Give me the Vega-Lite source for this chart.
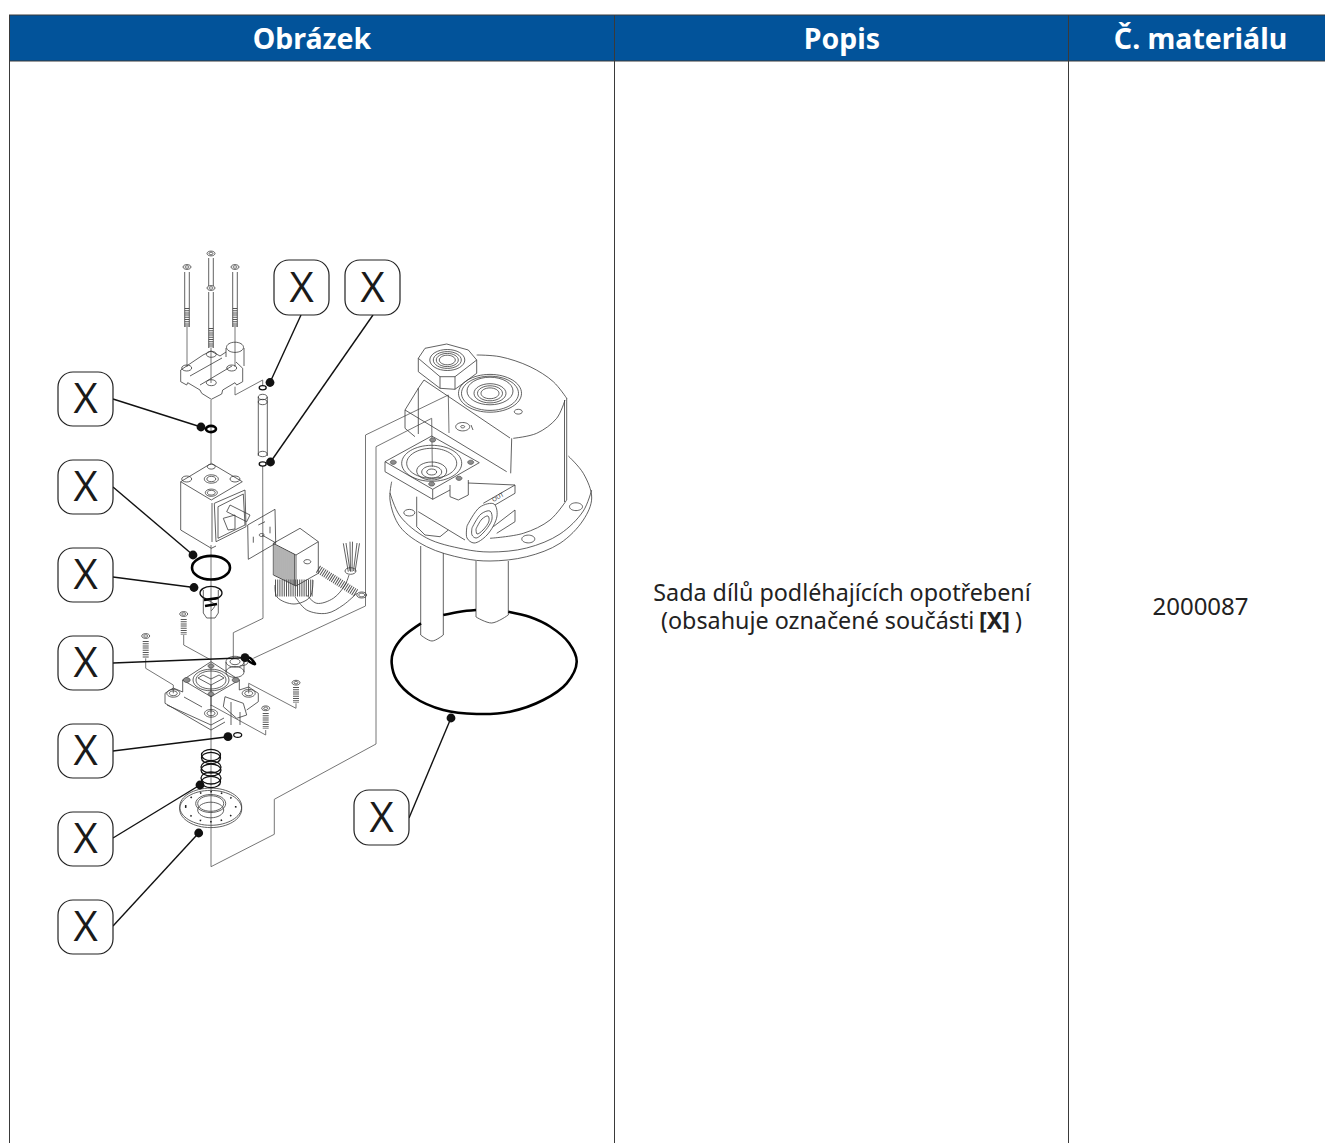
{"$schema":"https://vega.github.io/schema/vega-lite/v6.json","width":1325,"height":1143,"padding":0,"autosize":{"type":"none"},"background":"white","view":{"stroke":null},
"config":{"legend":{"disable":true}},
"encoding":{"x":{"field":"x","type":"quantitative","scale":{"domain":[0,1325],"nice":false,"zero":false},"axis":null},"y":{"field":"y","type":"quantitative","scale":{"domain":[1143,0],"nice":false,"zero":false},"axis":null}},
"layer":[
{"data":{"values":[{"x":9,"x2":1325,"y":15,"y2":61}]},"mark":{"type":"rect","fill":"#02539a"},"encoding":{"x2":{"field":"x2"},"y2":{"field":"y2"}}},
{"data":{"values":[{"p":1,"x":9,"y":15},{"p":1,"x":1325,"y":15},{"p":2,"x":9,"y":61},{"p":2,"x":1325,"y":61},{"p":3,"x":9.5,"y":15},{"p":3,"x":9.5,"y":1143},{"p":4,"x":614.5,"y":15},{"p":4,"x":614.5,"y":1143},{"p":5,"x":1068.5,"y":15},{"p":5,"x":1068.5,"y":1143}]},"mark":{"type":"line","stroke":"#3a3a3a","strokeWidth":1},"encoding":{"detail":{"field":"p"},"order":{"value":null}}},
{"data":{"values":[
{"p":1,"x":211,"y":400},{"p":1,"x":211,"y":463},
{"p":2,"x":211,"y":545},{"p":2,"x":211,"y":866.7},{"p":2,"x":274.3,"y":834.3},{"p":2,"x":274.3,"y":799.3},{"p":2,"x":376,"y":744},{"p":2,"x":376,"y":446.7},{"p":2,"x":431.7,"y":418.3},{"p":2,"x":432.3,"y":466.7},
{"p":3,"x":253.3,"y":658.3},{"p":3,"x":365.5,"y":606},{"p":3,"x":365.5,"y":435},{"p":3,"x":448.3,"y":395},{"p":3,"x":449,"y":433},
{"p":4,"x":262.7,"y":466},{"p":4,"x":263,"y":618.3},{"p":4,"x":233.3,"y":632.7},{"p":4,"x":233.3,"y":658.3},
{"p":5,"x":235,"y":386.7},{"p":5,"x":235,"y":395},{"p":5,"x":262.7,"y":380},{"p":5,"x":262.7,"y":385},
{"p":6,"x":183.7,"y":635},{"p":6,"x":183.7,"y":645},{"p":6,"x":211,"y":660},
{"p":7,"x":145.7,"y":658.3},{"p":7,"x":145.7,"y":668.3},{"p":7,"x":173.3,"y":685},{"p":7,"x":173.3,"y":693.3},
{"p":8,"x":296,"y":703.3},{"p":8,"x":296,"y":708.3},{"p":8,"x":248.7,"y":683.3},{"p":8,"x":248.7,"y":693.3},
{"p":9,"x":265.7,"y":730},{"p":9,"x":265.7,"y":735},{"p":9,"x":211,"y":705},{"p":9,"x":211,"y":713.3},
{"p":10,"x":187,"y":327},{"p":10,"x":187,"y":367},{"p":11,"x":235,"y":327},{"p":11,"x":235,"y":367},{"p":12,"x":211,"y":348},{"p":12,"x":211,"y":383}
]},"mark":{"type":"line","stroke":"#666666","strokeWidth":0.9},"encoding":{"detail":{"field":"p"},"order":{"value":null}}},
{"data":{"values":[
{"p":1,"w":4.5,"x":187,"y":308},{"p":1,"w":4.5,"x":187,"y":327},
{"p":2,"w":4.5,"x":235,"y":308},{"p":2,"w":4.5,"x":235,"y":327},
{"p":3,"w":4.5,"x":211,"y":328},{"p":3,"w":4.5,"x":211,"y":348},
{"p":4,"w":6,"x":183.7,"y":619},{"p":4,"w":6,"x":183.7,"y":635},
{"p":5,"w":6,"x":145.7,"y":641},{"p":5,"w":6,"x":145.7,"y":658},
{"p":6,"w":6,"x":296,"y":687},{"p":6,"w":6,"x":296,"y":703},
{"p":7,"w":6,"x":265.7,"y":713},{"p":7,"w":6,"x":265.7,"y":729},
{"p":9,"w":17,"x":275,"y":588},{"p":9,"w":17,"x":313,"y":588},
{"p":10,"w":8,"x":318,"y":569},{"p":10,"w":8,"x":356,"y":593}
]},"mark":{"type":"line","stroke":"#555555","strokeDash":[1,1.2]},"encoding":{"detail":{"field":"p"},"order":{"value":null},"strokeWidth":{"field":"w","type":"quantitative","scale":{"domain":[0,30],"range":[0,30]},"legend":null}}},
{"data":{"values":[
{"p":101,"x":275,"y":544},{"p":101,"x":275,"y":576},{"p":102,"x":277,"y":545},{"p":102,"x":277,"y":577},{"p":103,"x":279,"y":546},{"p":103,"x":279,"y":578},{"p":104,"x":281,"y":547},{"p":104,"x":281,"y":579},{"p":105,"x":283,"y":548},{"p":105,"x":283,"y":580},{"p":106,"x":285,"y":549},{"p":106,"x":285,"y":581},{"p":107,"x":287,"y":550},{"p":107,"x":287,"y":582},{"p":108,"x":289,"y":551},{"p":108,"x":289,"y":583},{"p":109,"x":291,"y":552},{"p":109,"x":291,"y":584},{"p":110,"x":293,"y":553},{"p":110,"x":293,"y":585},{"p":111,"x":294.5,"y":554},{"p":111,"x":294.5,"y":585.5}
]},"mark":{"type":"line","stroke":"#666666","strokeWidth":1},"encoding":{"detail":{"field":"p"},"order":{"value":null}}},
{"data":{"values":[
{"p":1,"x":184.7,"y":272},{"p":1,"x":184.7,"y":327},{"p":2,"x":189.3,"y":272},{"p":2,"x":189.3,"y":327},
{"p":3,"x":232.7,"y":272},{"p":3,"x":232.7,"y":327},{"p":4,"x":237.3,"y":272},{"p":4,"x":237.3,"y":327},
{"p":5,"x":208.7,"y":258},{"p":5,"x":208.7,"y":286},{"p":6,"x":213.3,"y":258},{"p":6,"x":213.3,"y":286},
{"p":7,"x":208.7,"y":292},{"p":7,"x":208.7,"y":348},{"p":8,"x":213.3,"y":292},{"p":8,"x":213.3,"y":348},
{"p":10,"x":180.7,"y":370},{"p":10,"x":180.7,"y":381.7},{"p":10,"x":186.7,"y":385},{"p":10,"x":187.7,"y":382.7},{"p":10,"x":200,"y":390},{"p":10,"x":201.7,"y":393.3},{"p":10,"x":211.3,"y":399.3},{"p":10,"x":221.7,"y":394},{"p":10,"x":222.7,"y":390},{"p":10,"x":235,"y":382.7},{"p":10,"x":236.7,"y":385},{"p":10,"x":242.7,"y":381.7},{"p":10,"x":242.7,"y":368.3},{"p":10,"x":236,"y":362},
{"p":11,"x":180.7,"y":370},{"p":11,"x":203,"y":355},{"p":11,"x":211,"y":351},{"p":11,"x":220,"y":356},{"p":11,"x":226,"y":352},
{"p":12,"x":190,"y":376},{"p":12,"x":222,"y":358},{"p":13,"x":200,"y":385},{"p":13,"x":232,"y":366},
{"p":14,"x":226,"y":348},{"p":14,"x":226,"y":357},{"p":15,"x":244,"y":348},{"p":15,"x":244,"y":366},
{"p":16,"x":258.3,"y":397},{"p":16,"x":258.3,"y":456},{"p":17,"x":267.3,"y":397},{"p":17,"x":267.3,"y":456},
{"p":20,"x":180.7,"y":481.7},{"p":20,"x":211.3,"y":463.3},{"p":20,"x":242.3,"y":481.7},{"p":20,"x":211.3,"y":500},{"p":20,"x":180.7,"y":481.7},{"p":20,"x":180.7,"y":530},{"p":20,"x":211.3,"y":548.3},{"p":20,"x":216,"y":546},
{"p":21,"x":214.3,"y":503.3},{"p":21,"x":245,"y":490},{"p":21,"x":246,"y":526.7},{"p":21,"x":216,"y":541.7},{"p":21,"x":214.3,"y":503.3},
{"p":22,"x":218,"y":506.7},{"p":22,"x":243.3,"y":494},{"p":22,"x":245,"y":525},{"p":22,"x":218,"y":538.3},{"p":22,"x":218,"y":506.7},
{"p":23,"x":223.3,"y":518.3},{"p":23,"x":235,"y":515},{"p":23,"x":235,"y":529},{"p":23,"x":228,"y":530},{"p":23,"x":223.3,"y":518.3},
{"p":24,"x":230,"y":505},{"p":24,"x":250,"y":515},{"p":24,"x":246.7,"y":521.7},{"p":24,"x":226.7,"y":511.7},{"p":24,"x":230,"y":505},
{"p":25,"x":212,"y":503},{"p":25,"x":212,"y":542},
{"p":26,"x":247.7,"y":525},{"p":26,"x":275,"y":509.3},{"p":26,"x":275.7,"y":543.3},{"p":26,"x":248.3,"y":559.3},{"p":26,"x":247.7,"y":525},
{"p":27,"x":253.3,"y":536.7},{"p":27,"x":253.3,"y":542.7},{"p":28,"x":270,"y":526.7},{"p":28,"x":270,"y":533.3},{"p":29,"x":258.3,"y":525},{"p":29,"x":265,"y":521.7},{"p":30,"x":262,"y":535},{"p":30,"x":276,"y":543},
{"p":31,"x":273.3,"y":543.3},{"p":31,"x":300,"y":528.3},{"p":31,"x":318.3,"y":541.7},{"p":31,"x":296,"y":555},{"p":31,"x":273.3,"y":543.3},{"p":31,"x":273.3,"y":575},{"p":31,"x":296,"y":586},{"p":31,"x":318.3,"y":573.3},{"p":31,"x":318.3,"y":541.7},
{"p":32,"x":296,"y":555},{"p":32,"x":296,"y":586},
{"p":33,"x":343.3,"y":543.3},{"p":33,"x":348.3,"y":571.7},{"p":34,"x":346,"y":543},{"p":34,"x":350,"y":571},{"p":35,"x":350,"y":541.7},{"p":35,"x":350.5,"y":571.7},{"p":36,"x":352.5,"y":541.7},{"p":36,"x":352,"y":571.7},{"p":37,"x":357,"y":543},{"p":37,"x":353.5,"y":571},{"p":38,"x":359.5,"y":543.3},{"p":38,"x":355,"y":571.7},
{"p":40,"x":203.3,"y":590},{"p":40,"x":203.3,"y":613},{"p":40,"x":206.7,"y":618},{"p":40,"x":215,"y":618},{"p":40,"x":218.3,"y":613},{"p":40,"x":218.3,"y":590},
{"p":41,"x":182.7,"y":680},{"p":41,"x":211,"y":661.7},{"p":41,"x":239.3,"y":680},{"p":41,"x":211,"y":696.7},{"p":41,"x":182.7,"y":680},{"p":41,"x":182.7,"y":692},{"p":41,"x":173.3,"y":688},{"p":41,"x":165,"y":693.3},{"p":41,"x":165,"y":703.3},{"p":41,"x":211,"y":730},{"p":41,"x":225,"y":722},
{"p":42,"x":239.3,"y":680},{"p":42,"x":239.3,"y":690},{"p":42,"x":248.7,"y":687},{"p":42,"x":258.3,"y":693.3},{"p":42,"x":258.3,"y":701.7},{"p":42,"x":246.7,"y":710},
{"p":43,"x":167,"y":705},{"p":43,"x":211,"y":725},{"p":43,"x":224,"y":718},{"p":44,"x":184,"y":697},{"p":44,"x":202,"y":707},
{"p":45,"x":225,"y":696.7},{"p":45,"x":243.3,"y":703.3},{"p":45,"x":246.7,"y":715},{"p":45,"x":236.7,"y":718.3},{"p":45,"x":223.3,"y":706.7},{"p":45,"x":225,"y":696.7},
{"p":46,"x":198,"y":678},{"p":46,"x":211,"y":685},{"p":46,"x":224,"y":678},{"p":46,"x":219,"y":675},{"p":46,"x":211,"y":679},{"p":46,"x":203,"y":675},{"p":46,"x":198,"y":678},{"p":47,"x":211,"y":685},{"p":47,"x":211,"y":692},
{"p":48,"x":226,"y":662},{"p":48,"x":226,"y":672},{"p":49,"x":244,"y":662},{"p":49,"x":244,"y":672},
{"p":50,"x":211,"y":696},{"p":50,"x":211,"y":706},{"p":51,"x":231,"y":702},{"p":51,"x":231,"y":725},{"p":52,"x":240,"y":712},{"p":52,"x":240,"y":725},
{"p":60,"x":420.7,"y":546},{"p":60,"x":420.7,"y":635},{"p":61,"x":443.3,"y":553},{"p":61,"x":443.3,"y":635},
{"p":62,"x":476,"y":561},{"p":62,"x":476,"y":617},{"p":63,"x":508.3,"y":561},{"p":63,"x":508.3,"y":615},
{"p":64,"x":566.7,"y":398},{"p":64,"x":566.7,"y":500},{"p":65,"x":564.5,"y":400},{"p":65,"x":564.5,"y":502},
{"p":66,"x":511.7,"y":438.3},{"p":66,"x":510.7,"y":473.3},{"p":67,"x":424,"y":380},{"p":67,"x":510,"y":438},{"p":68,"x":405,"y":410},{"p":68,"x":506.7,"y":471.7},
{"p":69,"x":418.3,"y":358.3},{"p":69,"x":425,"y":348.3},{"p":69,"x":446.7,"y":344},{"p":69,"x":468.3,"y":350},{"p":69,"x":476.7,"y":360},{"p":69,"x":476.7,"y":373.3},{"p":69,"x":455,"y":389.3},{"p":69,"x":440,"y":388.3},{"p":69,"x":418.3,"y":371.7},{"p":69,"x":418.3,"y":358.3},
{"p":70,"x":418.3,"y":358.3},{"p":70,"x":440,"y":376.7},{"p":70,"x":455,"y":376.7},{"p":70,"x":476.7,"y":360},{"p":71,"x":440,"y":376.7},{"p":71,"x":440,"y":388.3},{"p":72,"x":455,"y":376.7},{"p":72,"x":455,"y":389.3},
{"p":73,"x":424,"y":380},{"p":73,"x":418.3,"y":388.3},{"p":73,"x":405,"y":410},{"p":73,"x":405,"y":428.3},{"p":73,"x":415,"y":436.7},{"p":74,"x":418.3,"y":388},{"p":74,"x":418.3,"y":434},
{"p":75,"x":385,"y":461.7},{"p":75,"x":431.7,"y":436},{"p":75,"x":479.3,"y":462.7},{"p":75,"x":432.7,"y":489.3},{"p":75,"x":385,"y":461.7},{"p":75,"x":385,"y":471.7},{"p":75,"x":432.7,"y":499.3},{"p":75,"x":450,"y":490},{"p":76,"x":432.7,"y":489.3},{"p":76,"x":432.7,"y":499.3},
{"p":77,"x":450,"y":485},{"p":77,"x":450,"y":496.7},{"p":77,"x":458.3,"y":500},{"p":77,"x":468.3,"y":495},{"p":77,"x":468.3,"y":480},
{"p":78,"x":416.7,"y":496.7},{"p":78,"x":416.7,"y":526.7},{"p":78,"x":425,"y":535},{"p":78,"x":440,"y":536.7},{"p":78,"x":448.3,"y":530},{"p":79,"x":418.3,"y":511.7},{"p":79,"x":465,"y":540},
{"p":80,"x":483.3,"y":503.3},{"p":80,"x":515,"y":485},{"p":80,"x":515,"y":493.3},{"p":80,"x":495,"y":505},{"p":81,"x":493.3,"y":526.7},{"p":81,"x":515,"y":510},{"p":81,"x":515,"y":521.7},{"p":81,"x":496.7,"y":533.3},
{"p":82,"x":468,"y":483},{"p":82,"x":515,"y":485},
{"p":83,"x":471,"y":425},{"p":83,"x":473,"y":430}
]},"mark":{"type":"line","stroke":"#3a3a3a","strokeWidth":0.8},"encoding":{"detail":{"field":"p"},"order":{"value":null}}},
{"data":{"values":[
{"p":1,"x":391.7,"y":481.7},{"p":1,"x":390,"y":500},{"p":1,"x":400,"y":526.7},{"p":1,"x":426.7,"y":546.7},{"p":1,"x":463.3,"y":558.3},{"p":1,"x":490,"y":561},{"p":1,"x":526.7,"y":556.7},{"p":1,"x":560,"y":543.3},{"p":1,"x":583.3,"y":520},{"p":1,"x":591.7,"y":498},{"p":1,"x":583.3,"y":473.3},{"p":1,"x":568.3,"y":456},
{"p":2,"x":390,"y":493},{"p":2,"x":400,"y":516},{"p":2,"x":426.7,"y":538},{"p":2,"x":463.3,"y":549},{"p":2,"x":490,"y":552},{"p":2,"x":526.7,"y":548},{"p":2,"x":560,"y":534},{"p":2,"x":583.3,"y":511},{"p":2,"x":591.7,"y":490},
{"p":3,"x":476.7,"y":355},{"p":3,"x":500,"y":356.7},{"p":3,"x":530,"y":366.7},{"p":3,"x":553.3,"y":381.7},{"p":3,"x":566.7,"y":398.3},
{"p":4,"x":566.7,"y":500},{"p":4,"x":550,"y":520},{"p":4,"x":523.3,"y":533.3},{"p":4,"x":490,"y":538.3},
{"p":5,"x":513.3,"y":438.3},{"p":5,"x":536.7,"y":433.3},{"p":5,"x":556.7,"y":418.3},{"p":5,"x":565,"y":400},
{"p":6,"x":420.7,"y":635},{"p":6,"x":432,"y":641},{"p":6,"x":443.3,"y":635},
{"p":7,"x":476,"y":617},{"p":7,"x":491.7,"y":623},{"p":7,"x":508.3,"y":615},
{"p":8,"x":295,"y":596.7},{"p":8,"x":306.7,"y":610},{"p":8,"x":326.7,"y":613.3},{"p":8,"x":343.3,"y":605},{"p":8,"x":356.7,"y":593.3},
{"p":9,"x":306.7,"y":595},{"p":9,"x":316.7,"y":603.3},{"p":9,"x":333.3,"y":598.3},{"p":9,"x":345,"y":585},{"p":9,"x":349,"y":575},
{"p":10,"x":275,"y":585},{"p":10,"x":277,"y":597},{"p":10,"x":294,"y":604},{"p":10,"x":310,"y":597},{"p":10,"x":313,"y":580},
{"p":11,"x":467,"y":526},{"p":11,"x":480,"y":507},{"p":11,"x":494,"y":504},{"p":11,"x":497,"y":516},{"p":11,"x":487,"y":535},{"p":11,"x":474,"y":543},{"p":11,"x":467,"y":538},{"p":11,"x":467,"y":526},
{"p":12,"x":472,"y":528},{"p":12,"x":481,"y":514},{"p":12,"x":490,"y":511},{"p":12,"x":492,"y":519},{"p":12,"x":484,"y":532},{"p":12,"x":476,"y":538},{"p":12,"x":472,"y":535},{"p":12,"x":472,"y":528},
{"p":15,"x":476,"y":529},{"p":15,"x":482,"y":519},{"p":15,"x":488,"y":516},{"p":15,"x":489,"y":521},{"p":15,"x":483,"y":530},{"p":15,"x":477,"y":534},{"p":15,"x":476,"y":529},
{"p":13,"x":242,"y":655},{"p":13,"x":248,"y":658},{"p":13,"x":247,"y":664},{"p":13,"x":240,"y":666},
{"p":14,"x":207,"y":600},{"p":14,"x":215,"y":605},{"p":14,"x":211,"y":611}
]},"mark":{"type":"line","interpolate":"catmull-rom","stroke":"#3a3a3a","strokeWidth":0.8},"encoding":{"detail":{"field":"p"},"order":{"value":null}}},
{"data":{"values":[
{"w":8,"x":187,"y":267},{"w":8,"x":211,"y":253.5},{"w":8,"x":211,"y":288},{"w":8,"x":235,"y":267},
{"w":4,"x":187,"y":267},{"w":4,"x":211,"y":253.5},{"w":4,"x":211,"y":288},{"w":4,"x":235,"y":267},
{"w":10,"x":186.7,"y":368},{"w":10,"x":211.3,"y":354.3},{"w":10,"x":211.3,"y":382.7},{"w":10,"x":231.7,"y":368},{"w":17,"x":235,"y":347.3},{"w":9,"x":262.7,"y":397},{"w":9,"x":262.7,"y":402},{"w":9,"x":262.7,"y":454},
{"w":14,"x":211.3,"y":479},{"w":9,"x":211.3,"y":479},{"w":12,"x":211.3,"y":492.7},{"w":8,"x":211.3,"y":492.7},{"w":10,"x":186.7,"y":479},{"w":10,"x":235,"y":479},{"w":8,"x":211.3,"y":466.7},{"w":5,"x":261.7,"y":535},{"w":7,"x":307.3,"y":561.7},{"w":11,"x":350.5,"y":571},{"w":10,"x":361.7,"y":595},{"w":6,"x":361.7,"y":595},
{"w":8,"x":183.7,"y":614},{"w":8,"x":145.7,"y":636},{"w":8,"x":296,"y":682.7},{"w":8,"x":265.7,"y":708.3},{"w":4,"x":183.7,"y":614},{"w":4,"x":145.7,"y":636},{"w":4,"x":296,"y":682.7},{"w":4,"x":265.7,"y":708.3},
{"w":13,"x":173.3,"y":693.3},{"w":8,"x":173.3,"y":693.3},{"w":13,"x":248.7,"y":693.3},{"w":8,"x":248.7,"y":693.3},{"w":13,"x":211,"y":713.3},{"w":8,"x":211,"y":713.3},{"w":36,"x":211,"y":680},{"w":30,"x":211,"y":680},{"w":18,"x":235,"y":661.7},{"w":10,"x":235,"y":661.7},{"w":18,"x":235,"y":672},
{"w":62,"x":210.7,"y":806.7},{"w":62,"x":210.7,"y":809},{"w":30,"x":210.7,"y":803.5},{"w":26,"x":210.7,"y":803.5},{"w":26,"x":210.7,"y":810},
{"w":35,"x":447.3,"y":360},{"w":28,"x":447.3,"y":360},{"w":22,"x":447.3,"y":360},{"w":16,"x":447.3,"y":360},
{"w":63,"x":490,"y":393.3},{"w":57,"x":490,"y":393.3},{"w":46,"x":490,"y":391},{"w":32,"x":490,"y":393.3},{"w":25,"x":490,"y":393.3},{"w":18,"x":490,"y":393.3},{"w":8,"x":518.3,"y":411.7},
{"w":14,"x":462.7,"y":426.7},{"w":4,"x":462.7,"y":426.7},
{"w":60,"x":431.7,"y":463.3},{"w":50,"x":431.7,"y":463.3},{"w":30,"x":431.7,"y":471},{"w":20,"x":431.7,"y":472},{"w":10,"x":431.7,"y":472},
{"w":11,"x":409.3,"y":512.7},{"w":13,"x":576,"y":506.7},{"w":13,"x":528.3,"y":539}
]},"mark":{"type":"point","shape":"M -1 0 A 1 0.6 0 1 1 1 0 A 1 0.6 0 1 1 -1 0 Z","filled":false,"stroke":"#3a3a3a","strokeWidth":0.8,"opacity":1},"encoding":{"size":{"field":"w","type":"quantitative","scale":{"type":"pow","exponent":2,"domain":[0,100],"range":[0,10000]},"legend":null}}},
{"data":{"values":[{"w":50,"x":210.7,"y":806.7}]},"mark":{"type":"point","shape":"M -1 0 A 1 0.6 0 1 1 1 0 A 1 0.6 0 1 1 -1 0 Z","filled":false,"stroke":"#222222","strokeWidth":1.6,"strokeDash":[1.5,9],"opacity":1},"encoding":{"size":{"field":"w","type":"quantitative","scale":{"type":"pow","exponent":2,"domain":[0,100],"range":[0,10000]},"legend":null}}},
{"data":{"values":[{"w":6,"x":432.7,"y":440},{"w":6,"x":393.3,"y":462.3},{"w":6,"x":431.7,"y":484},{"w":6,"x":470.7,"y":462.3},{"w":6,"x":459,"y":478.3},{"w":7,"x":186.7,"y":680},{"w":7,"x":235.7,"y":680},{"w":6,"x":211,"y":666},{"w":6,"x":211,"y":694}]},"mark":{"type":"point","shape":"M -1 0 A 1 0.7 0 1 1 1 0 A 1 0.7 0 1 1 -1 0 Z","filled":true,"fill":"#8c8c8c","stroke":"#3a3a3a","strokeWidth":0.6,"opacity":1},"encoding":{"size":{"field":"w","type":"quantitative","scale":{"type":"pow","exponent":2,"domain":[0,100],"range":[0,10000]},"legend":null}}},
{"data":{"values":[{"w":19,"x":211,"y":755},{"w":19,"x":211,"y":758},{"w":20,"x":211,"y":767},{"w":20,"x":211,"y":770},{"w":20,"x":211,"y":778},{"w":19,"x":211,"y":782},{"w":7,"x":262.7,"y":387.7},{"w":7,"x":262.7,"y":464},{"w":8,"x":237.7,"y":735},{"w":22,"x":211,"y":593}]},"mark":{"type":"point","shape":"M -1 0 A 1 0.6 0 1 1 1 0 A 1 0.6 0 1 1 -1 0 Z","filled":false,"stroke":"#111111","strokeWidth":1.3,"opacity":1},"encoding":{"size":{"field":"w","type":"quantitative","scale":{"type":"pow","exponent":2,"domain":[0,100],"range":[0,10000]},"legend":null}}},
{"data":{"values":[{"w":38,"x":211,"y":567.7},{"w":10,"x":211,"y":429}]},"mark":{"type":"point","shape":"M -1 0 A 1 0.62 0 1 1 1 0 A 1 0.62 0 1 1 -1 0 Z","filled":false,"stroke":"#000000","strokeWidth":2.6,"opacity":1},"encoding":{"size":{"field":"w","type":"quantitative","scale":{"type":"pow","exponent":2,"domain":[0,100],"range":[0,10000]},"legend":null}}},
{"data":{"values":[
{"p":1,"x":421,"y":623.3},{"p":1,"x":403.3,"y":636.7},{"p":1,"x":393.3,"y":651.7},{"p":1,"x":391.7,"y":663.3},{"p":1,"x":396.7,"y":680},{"p":1,"x":413.3,"y":696.7},{"p":1,"x":443.3,"y":710},{"p":1,"x":476.7,"y":714},{"p":1,"x":510,"y":711.7},{"p":1,"x":543.3,"y":700},{"p":1,"x":566.7,"y":683.3},{"p":1,"x":576.7,"y":661.7},{"p":1,"x":569,"y":643},{"p":1,"x":550,"y":626.5},{"p":1,"x":530,"y":617},{"p":1,"x":508.3,"y":611.7},
{"p":2,"x":443.3,"y":615},{"p":2,"x":460,"y":611.7},{"p":2,"x":476,"y":610},
{"p":3,"x":245,"y":657},{"p":3,"x":250,"y":658},{"p":3,"x":255,"y":664},{"p":3,"x":250,"y":662},{"p":3,"x":246,"y":658},
{"p":4,"x":204,"y":600},{"p":4,"x":218,"y":598},{"p":5,"x":205,"y":606},{"p":5,"x":217,"y":604}
]},"mark":{"type":"line","interpolate":"catmull-rom","stroke":"#000000","strokeWidth":2.6},"encoding":{"detail":{"field":"p"},"order":{"value":null}}},
{"data":{"values":[
{"p":1,"x":301,"y":315},{"p":1,"x":270,"y":382.5},{"p":2,"x":373,"y":315},{"p":2,"x":270.5,"y":462},{"p":3,"x":113,"y":399},{"p":3,"x":201,"y":427},{"p":4,"x":113,"y":487},{"p":4,"x":193,"y":555},{"p":5,"x":113,"y":577},{"p":5,"x":194,"y":587.5},{"p":6,"x":113,"y":663},{"p":6,"x":245,"y":657.7},{"p":7,"x":113,"y":751},{"p":7,"x":228,"y":736.7},{"p":8,"x":113,"y":838},{"p":8,"x":200,"y":785},{"p":9,"x":113,"y":926},{"p":9,"x":198.7,"y":833},{"p":10,"x":409,"y":818},{"p":10,"x":451,"y":718}
]},"mark":{"type":"line","stroke":"#111111","strokeWidth":1.4},"encoding":{"detail":{"field":"p"},"order":{"value":null}}},
{"data":{"values":[{"x":270,"y":382.5},{"x":270.5,"y":462},{"x":201,"y":427},{"x":193,"y":555},{"x":194,"y":587.5},{"x":245,"y":657.7},{"x":228,"y":736.7},{"x":200,"y":785},{"x":198.7,"y":833},{"x":451,"y":718}]},"mark":{"type":"point","filled":true,"shape":"circle","fill":"#111111","size":78,"opacity":1}},
{"data":{"values":[{"x":274,"x2":329,"y":260,"y2":315},{"x":345,"x2":400,"y":260,"y2":315},{"x":58,"x2":113,"y":372,"y2":426},{"x":58,"x2":113,"y":460,"y2":514},{"x":58,"x2":113,"y":548,"y2":602},{"x":58,"x2":113,"y":636,"y2":690},{"x":58,"x2":113,"y":724,"y2":778},{"x":58,"x2":113,"y":812,"y2":866},{"x":58,"x2":113,"y":900,"y2":954},{"x":354,"x2":409,"y":790,"y2":845}]},"mark":{"type":"rect","cornerRadius":15,"fill":"white","stroke":"#222222","strokeWidth":1.2},"encoding":{"x2":{"field":"x2"},"y2":{"field":"y2"}}},
{"data":{"values":[{"t":"X","x":301.5,"y":289},{"t":"X","x":372.5,"y":289},{"t":"X","x":85.5,"y":400},{"t":"X","x":85.5,"y":488},{"t":"X","x":85.5,"y":576},{"t":"X","x":85.5,"y":664},{"t":"X","x":85.5,"y":752},{"t":"X","x":85.5,"y":840},{"t":"X","x":85.5,"y":928},{"t":"X","x":381.5,"y":819}]},"mark":{"type":"text","font":"Open Sans","fontSize":42,"fontWeight":400,"align":"center","baseline":"middle","fill":"#1a1a1a"},"encoding":{"text":{"field":"t"}}},
{"data":{"values":[{"t":"Obrázek","x":312,"y":40},{"t":"Popis","x":842,"y":40},{"t":"Č. materiálu","x":1200.5,"y":40}]},"mark":{"type":"text","font":"Noto Sans","fontSize":28.5,"fontWeight":"bold","align":"center","baseline":"middle","fill":"white"},"encoding":{"text":{"field":"t"}}},
{"data":{"values":[{"t":"Sada dílů podléhajících opotřebení","x":842,"y":594}]},"mark":{"type":"text","font":"Noto Sans","fontSize":23.3,"align":"center","baseline":"middle","fill":"#222222"},"encoding":{"text":{"field":"t"}}},
{"data":{"values":[{"t":"2000087","x":1200.5,"y":608}]},"mark":{"type":"text","font":"Noto Sans","fontSize":24,"align":"center","baseline":"middle","fill":"#222222"},"encoding":{"text":{"field":"t"}}},
{"data":{"values":[{"t":"(obsahuje označené součásti","x":661,"y":622},{"t":")","x":1015,"y":622}]},"mark":{"type":"text","font":"Noto Sans","fontSize":23.3,"align":"left","baseline":"middle","fill":"#222222"},"encoding":{"text":{"field":"t"}}},
{"data":{"values":[{"t":"[X]","x":979,"y":622}]},"mark":{"type":"text","font":"Noto Sans","fontSize":23.3,"fontWeight":"bold","align":"left","baseline":"middle","fill":"#222222"},"encoding":{"text":{"field":"t"}}},
{"data":{"values":[{"t":"OUT","x":498,"y":497}]},"mark":{"type":"text","font":"Liberation Sans","fontSize":6,"angle":-30,"align":"center","baseline":"middle","fill":"#333333"},"encoding":{"text":{"field":"t"}}}
]}
